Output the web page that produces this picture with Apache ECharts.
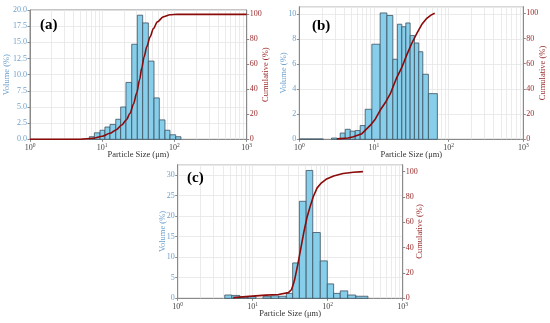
<!DOCTYPE html>
<html>
<head>
<meta charset="utf-8">
<script src="https://cdn.jsdelivr.net/npm/echarts@6/dist/echarts.min.js"></script>
<style>
html,body{margin:0;padding:0;background:#fff;}
#chart{width:550px;height:323px;}
</style>
</head>
<body>
<div id="chart"></div>
<script>
// ---------- data ----------
// bin edges (µm) and volume (%) per bin
const A_EDGES = [6.63, 7.78, 9.31, 10.9, 12.8, 15.4, 18.0, 21.3, 25.6, 30.6, 36.3, 43.5, 52.1, 61.7, 73.9, 86.7, 104, 123];
const A_VOL   = [0.4, 1.0, 1.4, 1.9, 2.3, 3.1, 5.0, 8.8, 14.7, 19.2, 18.0, 12.1, 6.4, 3.0, 1.4, 0.7, 0.4];
const A_CUM_X = [1, 5, 7.5, 10, 12.8, 15.5, 18.6, 21.5, 24.3, 27, 30, 33, 35.2, 38, 41.3, 46, 51, 58, 70, 87, 110, 1000];
const A_CUM_Y = [0, 0.1, 0.8, 2.5, 4.8, 7.5, 11.4, 15.5, 20.8, 28, 37, 48, 57, 66, 74, 82, 88.6, 94, 98, 99.7, 100, 100];

const B_EDGES = [1.0, 1.45, 2.1, 2.7, 3.2, 3.53, 4.12, 4.81, 5.61, 6.54, 7.63, 9.37, 12.1, 14.9, 17.9, 20.6, 23.6, 26.7, 30.5, 34.8, 39.8, 45.1, 53.6, 70.6];
const B_VOL   = [0.03, 0.03, 0, 0.1, 0, 0.5, 0.8, 0.65, 0.7, 1.1, 2.4, 7.6, 10.1, 9.9, 6.4, 9.2, 9.0, 9.3, 8.3, 7.7, 7.0, 5.2, 3.65];
const B_CUM_X = [3.2, 4.5, 5.3, 6.9, 8.9, 10.4, 12.1, 14.5, 16.5, 20.2, 23.6, 27.5, 32, 37.5, 43.6, 51, 58, 65];
const B_CUM_Y = [0.3, 1, 2, 4.5, 11, 16, 23, 30, 36, 49, 57, 67, 76, 84, 91, 96, 98.5, 100];

const C_EDGES = [4.24, 5.27, 6.75, 8.65, 11.07, 13.7, 17.6, 22.2, 28.1, 34.1, 41.9, 51.6, 63.2, 79.6, 98.8, 120, 147, 185, 237, 344];
const C_VOL   = [0.8, 0.7, 0.3, 0.4, 0, 0.4, 0.6, 0.5, 1.2, 8.6, 23.6, 31.1, 16.0, 9.1, 3.5, 1.2, 1.8, 0.8, 0.5];
const C_CUM_X = [5.5, 9, 15, 22, 30, 33, 36, 40, 44, 48, 53, 58, 64, 72, 82, 95, 120, 160, 220, 295];
const C_CUM_Y = [0.5, 1.5, 2.5, 3, 4.5, 7, 14, 27, 40, 52, 64, 72, 80, 87, 91, 94, 96.5, 98.5, 99.5, 100];

// axis settings / tick labels
const PANEL_LABELS = ['(a)', '(b)', '(c)'];
const X_RANGE = [1, 1000];
const MINOR_X = [2,3,4,5,6,7,8,9,20,30,40,50,60,70,80,90,200,300,400,500,600,700,800,900];
const VOL_MAX = [20, 10.6, 32.5];
const VOL_STEP = [2.5, 2, 5];
const VOL_DECIMALS = [1, 0, 0];
const CUM_MAX = [103.5, 105.2, 105.5];
const X_NAME = 'Particle Size (μm)';
const Y_NAME = 'Volume (%)';
const Y2_NAME = 'Cumulative (%)';

// ---------- styling ----------
const FONT = 'Liberation Serif';
const BLUE_TXT = '#6b9fcc';
const RED_TXT = '#9a2a2a';
const LINE_RED = '#8b0a0a';
const FRAME = '#8a8a8a';
const GRIDC = '#e6e6e6';

const GRIDS = [
  {left: 30, top: 10, width: 216.7, height: 129.3},
  {left: 299.3, top: 6.7, width: 224, height: 132.6},
  {left: 177.7, top: 164.7, width: 225, height: 133.6}
];
const NAME_GAPS = [[18.5, 15], [11, 15], [10.5, 13]];

const edgesList = [A_EDGES, B_EDGES, C_EDGES];
const volList = [A_VOL, B_VOL, C_VOL];
const cumX = [A_CUM_X, B_CUM_X, C_CUM_X];
const cumY = [A_CUM_Y, B_CUM_Y, C_CUM_Y];

const grid = [], xAxis = [], yAxis = [], series = [], title = [];

GRIDS.forEach((g, i) => {
  grid.push(Object.assign({show: true, borderColor: FRAME, borderWidth: 1, backgroundColor: 'transparent'}, g));
  xAxis.push({
    type: 'log', logBase: 10, gridIndex: i, min: X_RANGE[0], max: X_RANGE[1],
    name: X_NAME, nameLocation: 'middle', nameGap: 11, nameMoveOverlap: false,
    nameTextStyle: {fontFamily: FONT, fontSize: 8.5, color: '#333'},
    axisLine: {show: true, lineStyle: {color: FRAME}},
    axisTick: {show: true, length: 2.5, lineStyle: {color: FRAME}},
    splitLine: {show: true, lineStyle: {color: GRIDC, width: 0.8}},
    axisLabel: {
      margin: 3,
      formatter: v => '{b|10}{s|' + Math.round(Math.log10(v)) + '}',
      rich: {
        b: {fontFamily: FONT, fontSize: 8, color: '#444', lineHeight: 10, verticalAlign: 'bottom'},
        s: {fontFamily: FONT, fontSize: 5.5, color: '#444', lineHeight: 10, verticalAlign: 'top', padding: [0, 0, 3, 0]}
      }
    }
  });
  yAxis.push({
    type: 'value', gridIndex: i, min: 0, max: VOL_MAX[i], interval: VOL_STEP[i], position: 'left',
    name: Y_NAME, nameLocation: 'middle', nameGap: NAME_GAPS[i][0], nameRotate: 90, nameMoveOverlap: false,
    nameTextStyle: {fontFamily: FONT, fontSize: 8.5, color: BLUE_TXT},
    axisLine: {show: true, lineStyle: {color: FRAME}},
    axisTick: {show: true, length: 2.5, lineStyle: {color: FRAME}},
    splitLine: {show: true, lineStyle: {color: GRIDC, width: 0.8}},
    axisLabel: {fontFamily: FONT, fontSize: 8, color: BLUE_TXT, margin: 3, showMaxLabel: VOL_MAX[i] === 20,
      formatter: v => v.toFixed(VOL_DECIMALS[i])}
  });
  yAxis.push({
    type: 'value', gridIndex: i, min: 0, max: CUM_MAX[i], interval: 20, position: 'right',
    name: Y2_NAME, nameLocation: 'middle', nameGap: NAME_GAPS[i][1], nameRotate: 90, nameMoveOverlap: false,
    nameTextStyle: {fontFamily: FONT, fontSize: 8.5, color: RED_TXT},
    axisLine: {show: true, lineStyle: {color: FRAME}},
    axisTick: {show: true, length: 2.5, lineStyle: {color: FRAME}},
    splitLine: {show: false},
    axisLabel: {fontFamily: FONT, fontSize: 8, color: RED_TXT, margin: 3, showMaxLabel: false}
  });

  // minor vertical grid lines (behind bars)
  series.push({
    type: 'line', xAxisIndex: i, yAxisIndex: 2 * i, data: [[1, 0]], showSymbol: false,
    lineStyle: {opacity: 0}, silent: true, z: 1,
    markLine: {
      silent: true, symbol: 'none', z: 1, animation: false,
      label: {show: false},
      lineStyle: {color: GRIDC, width: 0.8, type: 'solid'},
      data: MINOR_X.map(v => ({xAxis: v}))
    }
  });

  // histogram bars
  const edges = edgesList[i], vol = volList[i];
  const barData = vol.map((h, k) => [edges[k], edges[k + 1], h]);
  series.push({
    type: 'custom', xAxisIndex: i, yAxisIndex: 2 * i, z: 3,
    encode: {x: [0, 1], y: 2},
    data: barData,
    renderItem: (params, api) => {
      const h = api.value(2);
      if (!(h > 0)) return null;
      const p0 = api.coord([api.value(0), 0]);
      const p1 = api.coord([api.value(1), h]);
      return {
        type: 'rect',
        shape: {x: p0[0], y: p1[1], width: p1[0] - p0[0], height: p0[1] - p1[1]},
        style: {fill: '#87ceeb', stroke: '#3e5260', lineWidth: 0.8}
      };
    }
  });

  // cumulative line
  series.push({
    type: 'line', xAxisIndex: i, yAxisIndex: 2 * i + 1, z: 5,
    data: cumX[i].map((x, k) => [x, cumY[i][k]]),
    showSymbol: false, smooth: i === 0 ? 0.3 : false, smoothMonotone: 'x',
    lineStyle: {color: LINE_RED, width: 1.6}
  });

  title.push({
    text: PANEL_LABELS[i], left: [35, 307, 182][i], top: [13, 14, 166][i],
    textStyle: {fontFamily: FONT, fontSize: 15, fontWeight: 'bold', color: '#000'}
  });
});

const chart = echarts.init(document.getElementById('chart'), null, {renderer: 'canvas'});
chart.setOption({animation: false, backgroundColor: '#fff', title, grid, xAxis, yAxis, series});
</script>
</body>
</html>
